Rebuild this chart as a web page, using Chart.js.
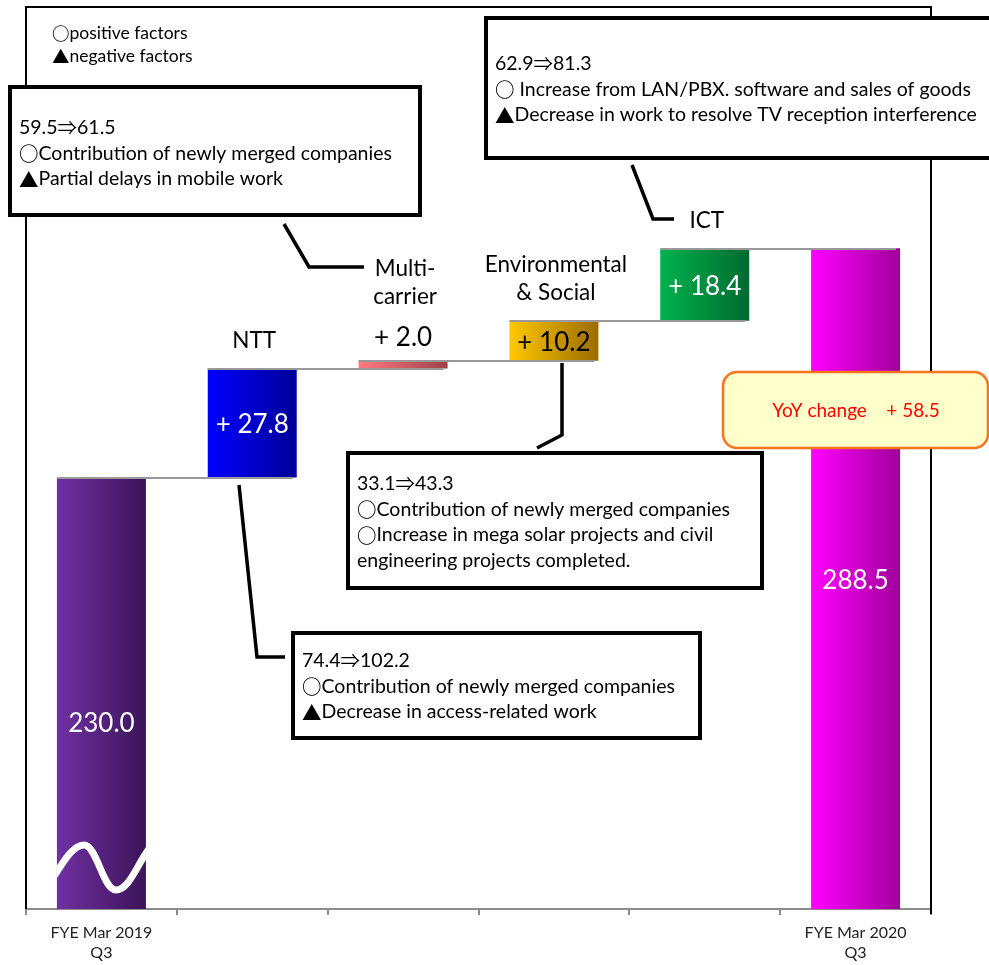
<!DOCTYPE html>
<html>
<head>
<meta charset="utf-8">
<script src="https://cdn.jsdelivr.net/npm/chart.js@4/dist/chart.umd.min.js"></script>
<style>
html,body{margin:0;padding:0;background:#fff}
#wrap{width:989px;height:965px;position:relative}
</style>
</head>
<body>
<div id="wrap"><canvas id="chart" width="989" height="965"></canvas></div>
<script>
// categories (multi-line as shown in the slide)
const categories = [['FYE Mar 2019','Q3'],['NTT'],['Multi-','carrier'],['Environmental','& Social'],['ICT'],['FYE Mar 2020','Q3']];
const startValue = 230.0;
const changes = [27.8, 2.0, 10.2, 18.4];
const endValue = 288.5;
const valueLabels = ['230.0','+ 27.8','+ 2.0','+ 10.2','+ 18.4','288.5'];
const yoyText = 'YoY change    + 58.5';
const axisMin = 120, axisMax = 350;

const legendLines = ['○positive factors','▲negative factors'];
const noteNTT = ['74.4⇒102.2','○Contribution of newly merged companies','▲Decrease in access-related work'];
const noteMulti = ['59.5⇒61.5','○Contribution of newly merged companies','▲Partial delays in mobile work'];
const noteEnv = ['33.1⇒43.3','○Contribution of newly merged companies','○Increase in mega solar projects and civil','engineering projects completed.'];
const noteICT = ['62.9⇒81.3','○ Increase from LAN/PBX. software and sales of goods','▲Decrease in work to resolve TV reception interference'];

// floating bars for the waterfall
const barData = [[axisMin, startValue]];
let run = startValue;
changes.forEach(c => { barData.push([run, run + c]); run += c; });
barData.push([axisMin, endValue]);

const gradStops = [
  ['#7030a2','#3b1458'],
  ['#0000ff','#000098'],
  ['#ff7a80','#a0404a'],
  ['#ffc800','#9a6c00'],
  ['#00b24e','#006a30'],
  ['#ff00ff','#a0009a']
];
const labelColor = ['#fff','#fff','#000','#000','#fff','#fff'];
const labelAbove = [false,false,true,false,false,false];
const BAR_PCT = 0.59;
const FONT = 'Lato, sans-serif';
const SYM_FONT = '"Noto Sans CJK JP", sans-serif';
const SYMBOLS = '○▲⇒';

function barFill(c){
  const i = c.dataIndex;
  const xs = c.chart.scales.x;
  if (i === undefined) return gradStops[0][0];
  if (!xs || !xs.width) return gradStops[i][0];
  const cx = xs.getPixelForValue(i);
  const w = xs.width / categories.length * BAR_PCT;
  const g = c.chart.ctx.createLinearGradient(cx - w/2, 0, cx + w/2, 0);
  g.addColorStop(0, gradStops[i][0]);
  g.addColorStop(1, gradStops[i][1]);
  return g;
}

// text with full-width symbols taken from the CJK font
function txt(ctx, s, x, y, size, color, align){
  const runs = [];
  for (const ch of s){
    const sym = SYMBOLS.includes(ch);
    if (runs.length && runs[runs.length-1].sym === sym) runs[runs.length-1].t += ch;
    else runs.push({ t: ch, sym: sym });
  }
  const fontOf = r => r.sym ? ((r.t.includes('○') ? 'bold ' : '') + size + 'px ' + SYM_FONT) : (size + 'px ' + FONT);
  let total = 0;
  runs.forEach(r => {
    ctx.font = fontOf(r);
    r.w = ctx.measureText(r.t).width;
    total += r.w;
  });
  let cx = x;
  if (align === 'center') cx = x - total / 2;
  else if (align === 'right') cx = x - total;
  ctx.fillStyle = color;
  ctx.textAlign = 'left';
  ctx.textBaseline = 'middle';
  runs.forEach(r => {
    ctx.font = fontOf(r);
    ctx.fillText(r.t, cx, y);
    cx += r.w;
  });
}

function noteBox(ctx, lines, x, y, w, h, firstY){
  ctx.fillStyle = '#fff';
  ctx.fillRect(x, y, w, h);
  ctx.lineWidth = 4;
  ctx.strokeStyle = '#000';
  ctx.strokeRect(x, y, w, h);
  lines.forEach((s, k) => txt(ctx, s, x + 9, firstY + k * 25.6, 19.5, '#000'));
}

function callout(ctx, pts){
  ctx.beginPath();
  ctx.moveTo(pts[0][0], pts[0][1]);
  for (let k = 1; k < pts.length; k++) ctx.lineTo(pts[k][0], pts[k][1]);
  ctx.lineWidth = 3.5;
  ctx.strokeStyle = '#000';
  ctx.lineJoin = 'miter';
  ctx.stroke();
}

const waterfallDecor = {
  id: 'waterfallDecor',
  afterDatasetsDraw(chart){
    const ctx = chart.ctx, ys = chart.scales.y, area = chart.chartArea;
    const els = chart.getDatasetMeta(0).data;
    ctx.save();
    // connector lines
    for (let i = 0; i < els.length - 1; i++){
      const a = els[i], b = els[i+1];
      const y = Math.round(ys.getPixelForValue(barData[i][1]));
      ctx.beginPath();
      ctx.moveTo(a.x - a.width/2, y);
      ctx.lineTo(b.x + b.width/2 - 4, y);
      ctx.lineWidth = 2;
      ctx.strokeStyle = '#999';
      ctx.stroke();
    }
    // axis-break wave on first bar
    const e0 = els[0], x0 = e0.x - e0.width/2, bt = area.bottom;
    ctx.save();
    ctx.beginPath();
    ctx.rect(x0, e0.y, e0.width, bt - e0.y);
    ctx.clip();
    ctx.beginPath();
    ctx.moveTo(x0 - 2, bt - 34);
    ctx.bezierCurveTo(x0 + 8, bt - 50, x0 + 17, bt - 64, x0 + 27, bt - 64);
    ctx.bezierCurveTo(x0 + 40, bt - 64, x0 + 46, bt - 19, x0 + 59, bt - 19);
    ctx.bezierCurveTo(x0 + 72, bt - 19, x0 + 80, bt - 44, x0 + 92, bt - 60);
    ctx.lineWidth = 7;
    ctx.strokeStyle = '#fff';
    ctx.lineCap = 'round';
    ctx.stroke();
    ctx.restore();
    // value labels and category names
    els.forEach((el, i) => {
      const top = Math.min(el.y, el.base), bot = Math.max(el.y, el.base);
      let ly;
      if (labelAbove[i]) ly = top - 23;
      else ly = (top + bot) / 2 + (i === 0 ? 30 : 2);
      txt(ctx, valueLabels[i], el.x, ly, 26, labelColor[i], 'center');
      if (i > 0 && i < els.length - 1){
        const anchor = labelAbove[i] ? ly - 13 : top;
        const names = categories[i];
        names.forEach((s, k) => {
          txt(ctx, s, el.x + 2, anchor - 28 - (names.length - 1 - k) * 28, 22.5, '#000', 'center');
        });
      }
    });
    ctx.restore();
  },
  afterDraw(chart){
    const ctx = chart.ctx, area = chart.chartArea;
    ctx.save();
    // frame
    ctx.strokeStyle = '#000';
    ctx.lineWidth = 2;
    ctx.beginPath();
    ctx.moveTo(area.left, area.bottom);
    ctx.lineTo(area.left, area.top);
    ctx.lineTo(area.right, area.top);
    ctx.lineTo(area.right, area.bottom + 5);
    ctx.stroke();
    // legend
    legendLines.forEach((s, k) => txt(ctx, s, 52, 33 + k * 23, 17.5, '#000'));
    // notes
    callout(ctx, [[284,224],[309,267],[364,267]]);
    noteBox(ctx, noteMulti, 10, 87, 410, 128, 128);
    callout(ctx, [[632,165],[653,219],[674,219]]);
    noteBox(ctx, noteICT, 486, 18, 505, 140, 64);
    callout(ctx, [[562,363],[562,435],[537,448]]);
    noteBox(ctx, noteEnv, 348, 453, 414, 135, 484);
    callout(ctx, [[239,485],[257,657],[285,657]]);
    noteBox(ctx, noteNTT, 293, 633, 407, 105, 661);
    // YoY box
    ctx.beginPath();
    ctx.roundRect(723, 372, 265, 76, 14);
    ctx.fillStyle = '#ffffcc';
    ctx.fill();
    ctx.lineWidth = 2.5;
    ctx.strokeStyle = '#f7731c';
    ctx.stroke();
    txt(ctx, yoyText, 856, 411, 19, '#ff0000', 'center');
    ctx.restore();
  }
};

new Chart(document.getElementById('chart'), {
  type: 'bar',
  data: {
    labels: categories.map(c => c.join(' ')),
    datasets: [{
      data: barData,
      backgroundColor: barFill,
      borderWidth: 0,
      barPercentage: BAR_PCT,
      categoryPercentage: 1
    }]
  },
  options: {
    responsive: false,
    animation: false,
    layout: { padding: { left: 26, right: 58, top: 7, bottom: 0 } },
    plugins: { legend: { display: false }, tooltip: { enabled: false } },
    scales: {
      x: {
        offset: true,
        grid: { offset: true, drawOnChartArea: false, drawTicks: true, tickLength: 6, color: '#8c8c8c', lineWidth: 2 },
        border: { display: true, color: '#8c8c8c', width: 2 },
        ticks: {
          padding: 7,
          color: '#222',
          font: { family: FONT, size: 16, lineHeight: 1.3 },
          maxRotation: 0,
          autoSkip: false,
          callback: (v, i) => (i === 0 || i === categories.length - 1) ? categories[i] : ''
        },
        afterFit: s => { s.height = 56; }
      },
      y: { display: false, min: axisMin, max: axisMax }
    }
  },
  plugins: [waterfallDecor]
});
</script>
</body>
</html>
